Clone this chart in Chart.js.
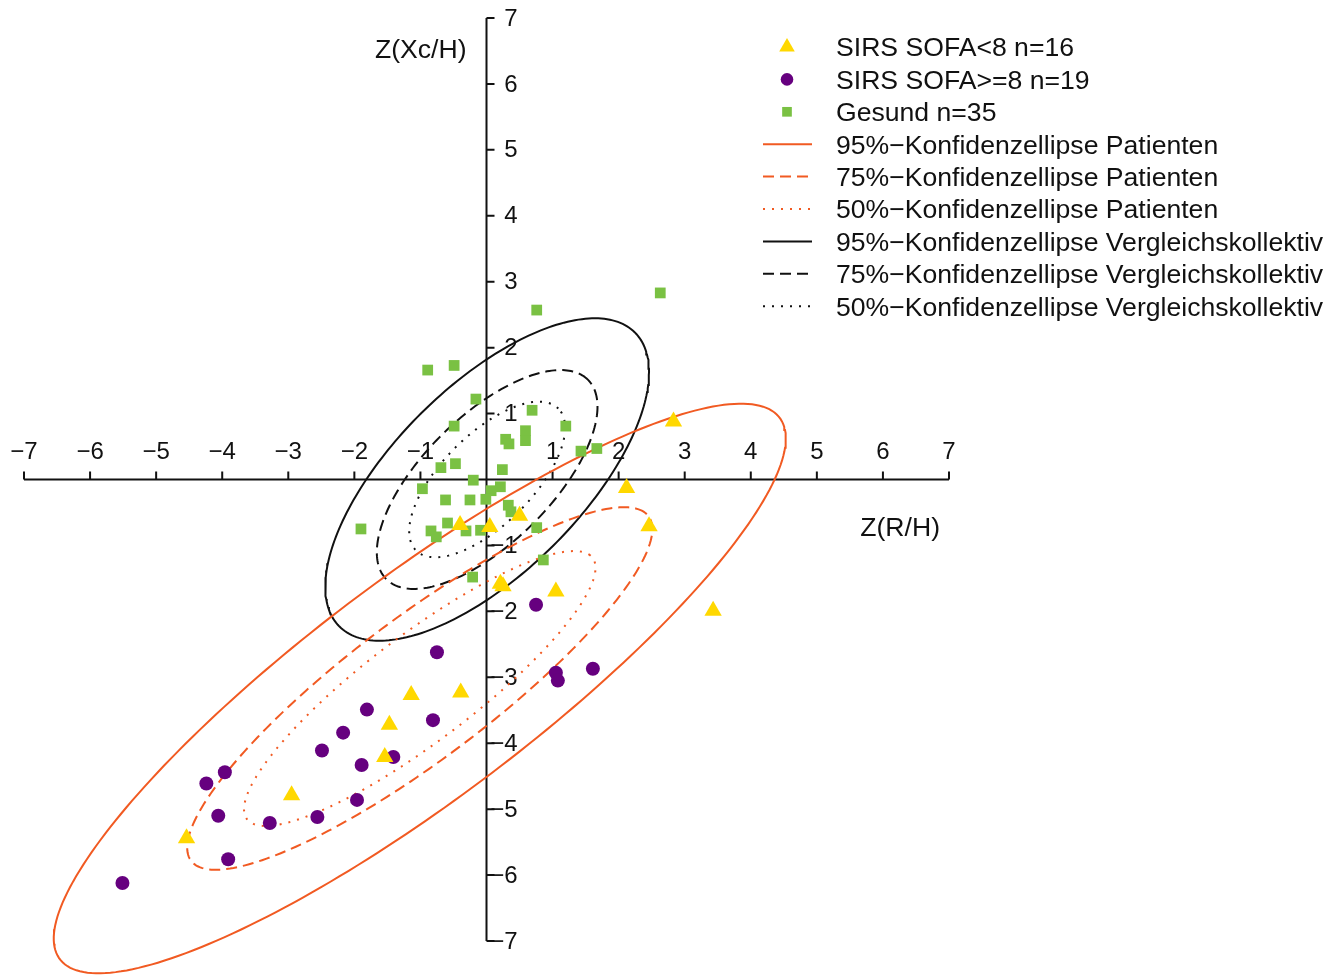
<!DOCTYPE html>
<html>
<head>
<meta charset="utf-8">
<script src="https://cdn.jsdelivr.net/npm/chart.js@4"></script>
<style>
  html, body { margin: 0; padding: 0; background: #fff; }
  #wrap { width: 1344px; height: 975px; position: relative; }
</style>
</head>
<body>
<div id="wrap"><canvas id="chart"></canvas></div>
<script>
// ticks on both axes (0 is left out, the axes cross there)
const xTicks = [-7, -6, -5, -4, -3, -2, -1, 1, 2, 3, 4, 5, 6, 7];
const yTicks = [-7, -6, -5, -4, -3, -2, -1, 1, 2, 3, 4, 5, 6, 7];

// SIRS SOFA<8 (yellow triangles)
const sofaLowX = [2.83, 2.12, 2.46, 0.50, 0.05, 0.25, 0.21, 1.05, 3.43, -0.40, -1.14, -0.39, -1.47, -1.54, -2.95, -4.54];
const sofaLowY = [0.88, -0.13, -0.71, -0.55, -0.72, -1.62, -1.58, -1.70, -1.99, -0.69, -3.27, -3.23, -3.72, -4.21, -4.79, -5.44];

// SIRS SOFA>=8 (purple circles)
const sofaHighX = [0.75, 1.05, 1.08, 1.61, -0.75, -1.81, -0.81, -2.17, -2.49, -1.89, -1.41, -3.96, -4.24, -1.96, -4.06, -2.56, -3.28, -3.91, -5.51];
const sofaHighY = [-1.90, -2.93, -3.05, -2.87, -2.62, -3.49, -3.65, -3.84, -4.11, -4.33, -4.21, -4.44, -4.61, -4.86, -5.10, -5.12, -5.21, -5.76, -6.12];

// Gesund (green squares)
const gesundX = [2.63, 0.76, -0.89, -0.49, -0.16, 0.69, -0.49, 1.20, 0.59, 0.59, 0.29, 0.34, 1.43, 1.67, -0.69, -0.47, 0.24, -0.20,
                 -0.97, 0.07, 0.21, -0.62, -0.25, -0.01, 0.33, 0.37, -0.59, -1.90, -0.84, -0.76, -0.31, -0.09, 0.76, 0.86, -0.21];
const gesundY = [2.83, 2.57, 1.66, 1.73, 1.22, 1.05, 0.81, 0.81, 0.74, 0.59, 0.61, 0.54, 0.43, 0.47, 0.18, 0.24, 0.15, -0.01,
                 -0.14, -0.17, -0.11, -0.31, -0.31, -0.30, -0.39, -0.49, -0.66, -0.75, -0.78, -0.87, -0.78, -0.77, -0.73, -1.22, -1.48];

// confidence ellipses: centre, half extent in x and y, correlation
const patCenter = [-1.01, -3.17];
const patHalfX = [5.54, 3.52, 2.66];   // 95%, 75%, 50%
const patHalfY = [4.32, 2.75, 2.085];
const patCorr = 0.878;

const ctrlCenter = [0.01, 0.0];
const ctrlHalfX = [2.45, 1.67, 1.18];
const ctrlHalfY = [2.445, 1.66, 1.18];
const ctrlCorr = 0.665;

const levels = ["95%", "75%", "50%"];
const dashes = [[], [11, 6], [2, 7]];

const ORANGE = "#F15A22";
const BLACK = "#111111";
const FONT = '"Liberation Sans", Arial, sans-serif';

function toPoints(xs, ys) {
    return xs.map((x, i) => ({ x: x, y: ys[i] }));
}

function ellipsePoints(center, hx, hy, r) {
    let d = Math.acos(r);
    let pts = [];
    for (let i = 0; i <= 240; i++) {
        let t = i / 240 * 2 * Math.PI;
        pts.push({ x: center[0] + hx * Math.cos(t + d / 2), y: center[1] + hy * Math.cos(t - d / 2) });
    }
    return pts;
}

function ellipseSet(label, pts, color, dash) {
    return {
        label: label, data: pts, showLine: true, pointRadius: 0, borderColor: color,
        borderWidth: 2, borderDash: dash, fill: false, clip: false, order: 1
    };
}

let datasets = [
    { label: "SIRS SOFA<8 n=16", data: toPoints(sofaLowX, sofaLowY), pointStyle: "triangle", pointRadius: 10,
      backgroundColor: "#FFD800", borderWidth: 0, order: 0 },
    { label: "SIRS SOFA>=8 n=19", data: toPoints(sofaHighX, sofaHighY), pointStyle: "circle", pointRadius: 7,
      backgroundColor: "#66007F", borderWidth: 0, order: 0 },
    { label: "Gesund n=35", data: toPoints(gesundX, gesundY), pointStyle: "rect", pointRadius: 7.6,
      backgroundColor: "#7AC143", borderWidth: 0, order: 0 }
];
levels.forEach((lv, i) => {
    datasets.push(ellipseSet(lv + "\u2212Konfidenzellipse Patienten",
        ellipsePoints(patCenter, patHalfX[i], patHalfY[i], patCorr), ORANGE, dashes[i]));
});
levels.forEach((lv, i) => {
    datasets.push(ellipseSet(lv + "\u2212Konfidenzellipse Vergleichskollektiv",
        ellipsePoints(ctrlCenter, ctrlHalfX[i], ctrlHalfY[i], ctrlCorr), BLACK, dashes[i]));
});

// axes crossing at the origin, labels above / right like the original
const crossAxes = {
    id: "crossAxes",
    beforeDatasetsDraw(chart) {
        const ctx = chart.ctx;
        const xs = chart.scales.x, ys = chart.scales.y;
        const x0 = xs.getPixelForValue(0), y0 = ys.getPixelForValue(0);
        ctx.save();
        ctx.strokeStyle = BLACK;
        ctx.lineWidth = 2;
        ctx.beginPath();
        ctx.moveTo(xs.getPixelForValue(-7), y0);
        ctx.lineTo(xs.getPixelForValue(7), y0);
        ctx.moveTo(x0, ys.getPixelForValue(7));
        ctx.lineTo(x0, ys.getPixelForValue(-7));
        xTicks.forEach(v => {
            let px = xs.getPixelForValue(v);
            ctx.moveTo(px, y0);
            ctx.lineTo(px, y0 - 8);
        });
        yTicks.forEach(v => {
            let py = ys.getPixelForValue(v);
            ctx.moveTo(x0, py);
            ctx.lineTo(x0 + 8, py);
        });
        ctx.stroke();

        ctx.fillStyle = BLACK;
        ctx.font = "24px " + FONT;
        ctx.textBaseline = "middle";
        ctx.textAlign = "center";
        xTicks.forEach(v => {
            let txt = v < 0 ? "\u2212" + Math.abs(v) : String(v);
            ctx.fillText(txt, xs.getPixelForValue(v), y0 - 27);
        });
        ctx.textAlign = "right";
        yTicks.forEach(v => {
            let txt = v < 0 ? "\u2212" + Math.abs(v) : String(v);
            ctx.fillText(txt, x0 + 31, ys.getPixelForValue(v) + 1);
        });

        ctx.font = "26.6px " + FONT;
        ctx.textAlign = "right";
        ctx.fillText("Z(Xc/H)", x0 - 20, ys.top + 33);
        ctx.fillText("Z(R/H)", xs.right - 9, y0 + 49);
        ctx.restore();
    }
};

// legend in the top right corner
const sideLegend = {
    id: "sideLegend",
    afterDraw(chart) {
        const ctx = chart.ctx;
        ctx.save();
        chart.data.datasets.forEach((ds, i) => {
            let y = 47 + i * 32.4;
            if (ds.showLine) {
                ctx.strokeStyle = ds.borderColor;
                ctx.lineWidth = 2;
                ctx.setLineDash(ds.borderDash);
                ctx.beginPath();
                ctx.moveTo(763, y);
                ctx.lineTo(812, y);
                ctx.stroke();
                ctx.setLineDash([]);
            } else {
                ctx.fillStyle = ds.backgroundColor;
                Chart.helpers.drawPoint(ctx, { pointStyle: ds.pointStyle, radius: ds.pointRadius * 0.9, rotation: 0, borderWidth: 0 }, 787, y);
            }
            ctx.fillStyle = BLACK;
            ctx.font = "26.6px " + FONT;
            ctx.textAlign = "left";
            ctx.textBaseline = "middle";
            ctx.fillText(ds.label, 836, y + 2);
        });
        ctx.restore();
    }
};

new Chart(document.getElementById("chart"), {
    type: "scatter",
    data: { datasets: datasets },
    options: {
        animation: false,
        responsive: true,
        maintainAspectRatio: false,
        layout: { padding: { left: 24, right: 395, top: 18, bottom: 34 } },
        scales: {
            x: { type: "linear", min: -7, max: 7, display: false },
            y: { type: "linear", min: -7, max: 7, display: false }
        },
        plugins: { legend: { display: false }, tooltip: { enabled: false } }
    },
    plugins: [crossAxes, sideLegend]
});
</script>
</body>
</html>
